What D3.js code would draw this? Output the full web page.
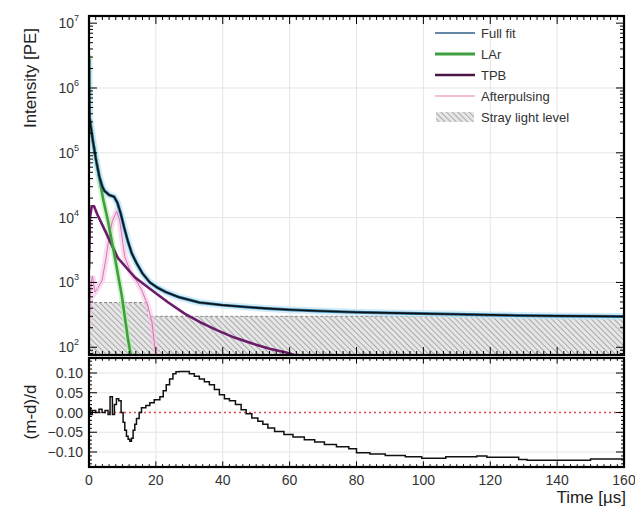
<!DOCTYPE html>
<html><head><meta charset="utf-8">
<script src="https://cdn.jsdelivr.net/npm/d3@7"></script>
<style>
body{margin:0;background:#fff;}
text{font-family:"Liberation Sans",Arial,sans-serif;}
</style></head>
<body>
<svg id="c" width="635" height="509"></svg>
<script>
// ---- data ----
const fitTimes = [0,0.05,0.15,1.1,2.1,3.1,4.0,4.6,6.0,7.5,8.5,9.5,10.5,11.7,12.8,14.2,16,18.2,20.5,23,27,33,40,47,53,60,69,80,90,99,110,120,128,140,150,160];
const fitPE    = [2.8e6,8.0e5,3.5e5,1.6e5,7.8e4,4.3e4,3.0e4,2.6e4,2.24e4,2.1e4,1.7e4,1.15e4,7.1e3,4.2e3,2.8e3,2.0e3,1.38e3,1.0e3,830,710,590,490,447,417,398,380,363,347,339,331,324,316,309,305,302,299];

const larTimes = [0,0.05,0.15,1.1,2.1,3.1,4.3,5.6,7.7,9.8,11.6,12.6];
const larPE    = [3.2e6,8.0e5,3.5e5,1.6e5,7.8e4,4.0e4,1.86e4,9.3e3,2.5e3,630,140,71];

const tpbTimes = [0,0.3,0.8,1.5,2.5,4.8,8.6,13.7,18.8,23.5,28.6,33.5,38.4,43.5,48.6,54,59,62];
const tpbPE    = [1.6e3,1.0e4,1.5e4,1.5e4,1.12e4,6.3e3,2.4e3,1.2e3,760,500,330,240,182,141,115,95,83,74];

const apTimes = [0,0.5,1,1.8,2.5,3.9,5,6,7,8.3,9.2,10.7,12.5,14,15.8,17.5,18.8,19.7,20.2];
const apPE    = [200,800,1260,710,800,1070,2240,5000,8900,1.26e4,8.9e3,2.5e3,1.4e3,1.1e3,760,450,250,100,71];

const strayTimes = [0,17.5,160];
const strayPE    = [490,300,300];

const resTimes = [0,0.5,1,2,3,3.9,4.8,5.7,6.3,7,7.6,8.2,8.9,9.6,10.2,10.7,11.2,11.7,12.2,12.7,13.2,13.7,14.2,15,15.7,17,18.2,19.5,21.2,22.2,23.1,24.1,25.1,26,27,30,31.5,33,34.5,36,37.5,39,40.5,42,43.8,45.5,47,48.7,50.5,52,53.5,55.5,58.3,61,64.4,67.5,70.4,74,77.7,80,84,88.6,94.6,99.5,106.7,116,119,128.5,131,143,150,160];
const resVals  = [0.012,-0.005,0.005,0.0,0.008,0.0,0.005,-0.005,0.04,-0.005,0.02,0.035,0.03,0.0,-0.025,-0.045,-0.06,-0.068,-0.073,-0.065,-0.045,-0.03,-0.015,0.0,0.012,0.018,0.025,0.032,0.04,0.055,0.07,0.085,0.098,0.103,0.104,0.098,0.092,0.085,0.078,0.07,0.058,0.045,0.035,0.03,0.02,0.007,-0.003,-0.014,-0.022,-0.03,-0.039,-0.048,-0.056,-0.062,-0.069,-0.075,-0.081,-0.087,-0.092,-0.102,-0.105,-0.109,-0.112,-0.116,-0.112,-0.110,-0.113,-0.119,-0.121,-0.121,-0.118,-0.116];

const xTicks = [0,20,40,60,80,100,120,140,160];
const yTopTicks = [2,3,4,5,6,7];
const yBotTicks = [0.10,0.05,0.00,-0.05,-0.10];
const legendLabels = ["Full fit","LAr","TPB","Afterpulsing","Stray light level"];

// ---- layout ----
const svg = d3.select("#c");
const L = 89, R = 624, T1 = 16, B1 = 355, T2 = 358, B2 = 467;
const x = d3.scaleLinear().domain([0,160]).range([L,R]);
const yTop = d3.scaleLog().domain([76,1.29e7]).range([B1,T1]);
const yBot = d3.scaleLinear().domain([-0.138,0.138]).range([B2,T2]);

const defs = svg.append("defs");
const pat = defs.append("pattern").attr("id","hatch").attr("patternUnits","userSpaceOnUse")
  .attr("width",4).attr("height",4).attr("patternTransform","rotate(-45)");
pat.append("rect").attr("width",4).attr("height",4).attr("fill","#e6e6e6");
pat.append("line").attr("x1",0).attr("y1",0).attr("x2",0).attr("y2",4).attr("stroke","#8a8a8a").attr("stroke-width",1.3);
defs.append("clipPath").attr("id","clipTop").append("rect").attr("x",L).attr("y",T1).attr("width",R-L).attr("height",B1-T1);
defs.append("clipPath").attr("id","clipBot").append("rect").attr("x",L).attr("y",T2).attr("width",R-L).attr("height",B2-T2);

// grids
const gGrid = svg.append("g").attr("stroke","#e4e4e4").attr("stroke-width",1);
xTicks.slice(1,-1).forEach(t=>{
  gGrid.append("line").attr("x1",x(t)).attr("x2",x(t)).attr("y1",T1).attr("y2",B1);
  gGrid.append("line").attr("x1",x(t)).attr("x2",x(t)).attr("y1",T2).attr("y2",B2);
});
yTopTicks.slice(1,-1).forEach(e=>{
  gGrid.append("line").attr("x1",L).attr("x2",R).attr("y1",yTop(Math.pow(10,e))).attr("y2",yTop(Math.pow(10,e)));
});
[0.10,0.05,-0.05,-0.10].forEach(v=>{
  gGrid.append("line").attr("x1",L).attr("x2",R).attr("y1",yBot(v)).attr("y2",yBot(v));
});

// top panel curves
const gTop = svg.append("g").attr("clip-path","url(#clipTop)");
const strayData = strayTimes.map((t,i)=>[t,strayPE[i]]);
gTop.append("path").datum(strayData)
  .attr("d", d3.area().curve(d3.curveStepAfter).x(d=>x(d[0])).y0(B1+2).y1(d=>yTop(d[1])))
  .attr("fill","url(#hatch)");
gTop.append("path").datum(strayData)
  .attr("d", d3.line().curve(d3.curveStepAfter).x(d=>x(d[0])).y(d=>yTop(d[1])))
  .attr("fill","none").attr("stroke","#8a8a8a").attr("stroke-width",1).attr("stroke-dasharray","3,2");

const line = d3.line().x(d=>x(d[0])).y(d=>yTop(d[1]));
function series(ts,vs){return ts.map((t,i)=>[t,vs[i]]);}
const fitD = series(fitTimes,fitPE), larD = series(larTimes,larPE), tpbD = series(tpbTimes,tpbPE), apD = series(apTimes,apPE);

// halos (uncertainty bands)
gTop.append("path").datum(apD).attr("d",line).attr("fill","none").attr("stroke","#f4c6e4").attr("stroke-width",6).attr("opacity",0.6);
gTop.append("path").datum(larD).attr("d",line).attr("fill","none").attr("stroke","#bff0b8").attr("stroke-width",6).attr("opacity",0.7);
gTop.append("path").datum(fitD).attr("d",line).attr("fill","none").attr("stroke","#bfe6f5").attr("stroke-width",7).attr("opacity",0.7);

gTop.append("path").datum(apD).attr("d",line).attr("fill","none").attr("stroke","#e070b8").attr("stroke-width",1);
gTop.append("path").datum(tpbD).attr("d",line).attr("fill","none").attr("stroke","#6a1b6a").attr("stroke-width",2.6);
gTop.append("path").datum(larD).attr("d",line).attr("fill","none").attr("stroke","#3f9f3f").attr("stroke-width",2.6);
gTop.append("path").datum(fitD).attr("d",line).attr("fill","none").attr("stroke","#2f78a8").attr("stroke-width",3);
gTop.append("path").datum(fitD).attr("d",line).attr("fill","none").attr("stroke","#111").attr("stroke-width",1.6);

// bottom panel
const gBot = svg.append("g").attr("clip-path","url(#clipBot)");
gBot.append("line").attr("x1",L).attr("x2",R).attr("y1",yBot(0)).attr("y2",yBot(0))
  .attr("stroke","#e04848").attr("stroke-width",1.3).attr("stroke-dasharray","2,3");
gBot.append("path").datum(series(resTimes,resVals))
  .attr("d", d3.line().curve(d3.curveStepAfter).x(d=>x(d[0])).y(d=>yBot(d[1])))
  .attr("fill","none").attr("stroke","#111").attr("stroke-width",1.5);

// ticks
const gT = svg.append("g").attr("stroke","#000").attr("stroke-width",1);
function vtick(xx,y0,len){gT.append("line").attr("x1",xx).attr("x2",xx).attr("y1",y0).attr("y2",y0+len);}
function htick(yy,x0,len){gT.append("line").attr("x1",x0).attr("x2",x0+len).attr("y1",yy).attr("y2",yy);}
d3.range(0,161,2).forEach(t=>{
  const major = t%20===0, len = major?8:4;
  vtick(x(t),T1,len); vtick(x(t),B1,-len); vtick(x(t),T2,len*0.7); vtick(x(t),B2,-len*0.7);
});
for(let e=1;e<=7;e++){
  for(let m=1;m<=9;m++){
    const v = m*Math.pow(10,e);
    if(v<76||v>1.29e7) continue;
    const len = m===1?8:4;
    htick(yTop(v),L,len); htick(yTop(v),R,-len);
  }
}
d3.range(-13,14).forEach(k=>{
  const v=k*0.01, major = k%5===0, len = major?8:3;
  htick(yBot(v),L,len); htick(yBot(v),R,-len);
});

// frames
svg.append("rect").attr("x",L).attr("y",T1).attr("width",R-L).attr("height",B1-T1).attr("fill","none").attr("stroke","#000").attr("stroke-width",2.2);
svg.append("rect").attr("x",L).attr("y",T2).attr("width",R-L).attr("height",B2-T2).attr("fill","none").attr("stroke","#000").attr("stroke-width",2.2);

// tick labels
const lab = svg.append("g").attr("fill","#333").attr("font-size",14);
xTicks.forEach(t=>{
  lab.append("text").attr("x",x(t)).attr("y",485).attr("text-anchor","middle").text(t);
});
yTopTicks.forEach(e=>{
  const tx = lab.append("text").attr("x",79).attr("y",yTop(Math.pow(10,e))+5).attr("text-anchor","end");
  tx.append("tspan").text("10");
  tx.append("tspan").attr("font-size",9).attr("dy",-7).text(e);
});
yBotTicks.forEach(v=>{
  lab.append("text").attr("x",83).attr("y",yBot(v)+5).attr("text-anchor","end").text(d3.format(".2f")(v).replace("-","\u2212"));
});

// axis titles
svg.append("text").attr("transform","translate(36,78) rotate(-90)").attr("text-anchor","middle")
  .attr("font-size",17).attr("fill","#222").text("Intensity [PE]");
svg.append("text").attr("transform","translate(36,412) rotate(-90)").attr("text-anchor","middle")
  .attr("font-size",17).attr("fill","#222").text("(m-d)/d");
svg.append("text").attr("x",626).attr("y",503).attr("text-anchor","end")
  .attr("font-size",17).attr("fill","#222").text("Time [\u00b5s]");

// legend
const leg = svg.append("g");
const legY = [33,54,75,96,117];
const legStyles = [
  {c:"#2f5f86",w:1.5},{c:"#3f9f3f",w:3},{c:"#4a1545",w:2.6},{c:"#f0a8cc",w:1.3},null
];
legendLabels.forEach((name,i)=>{
  const yy = legY[i];
  if(legStyles[i]){
    leg.append("line").attr("x1",435).attr("x2",475).attr("y1",yy).attr("y2",yy)
      .attr("stroke",legStyles[i].c).attr("stroke-width",legStyles[i].w);
  } else {
    leg.append("rect").attr("x",436).attr("y",yy-5).attr("width",38).attr("height",10).attr("fill","url(#hatch)");
  }
  leg.append("text").attr("x",481).attr("y",yy+5).attr("font-size",13).attr("fill","#333").text(name);
});
</script>
</body></html>
